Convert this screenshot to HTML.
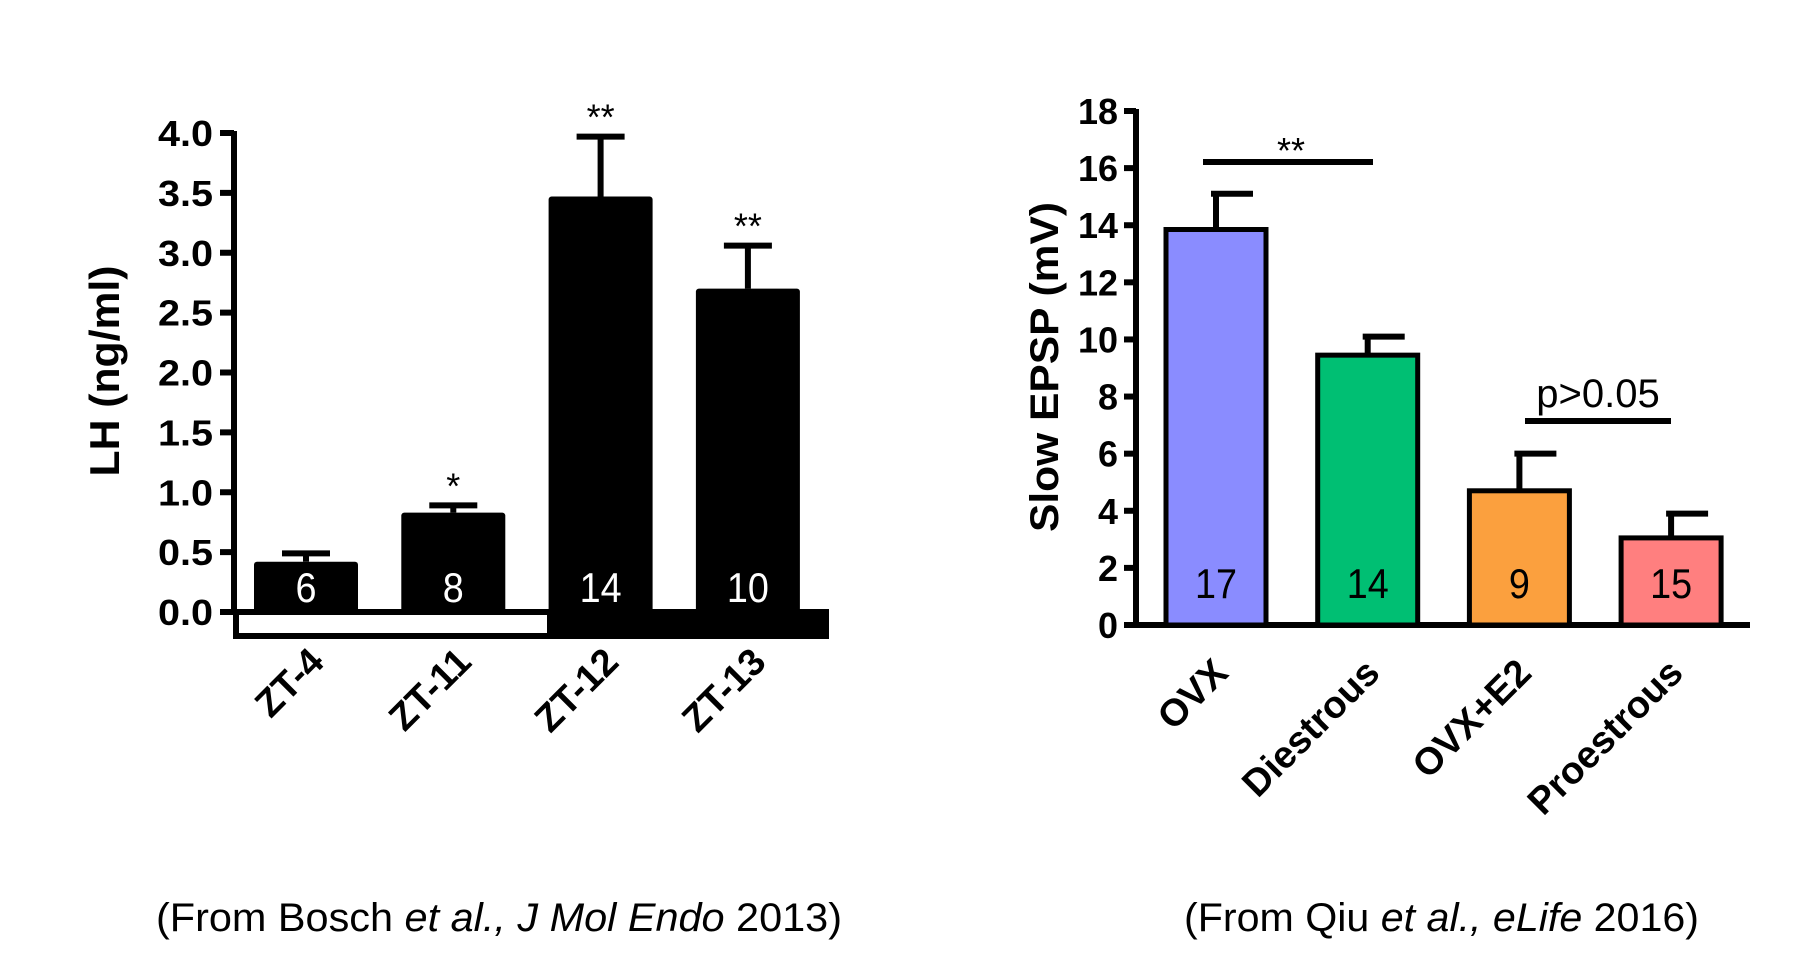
<!DOCTYPE html>
<html><head><meta charset="utf-8"><style>
html,body{margin:0;padding:0;background:#fff;}
svg{display:block;font-family:"Liberation Sans",Arial,sans-serif;}
</style></head><body>
<svg width="1805" height="954" viewBox="0 0 1805 954">
<g id="left"></g>
<g id="right"></g>
<text x="156" y="931" font-size="40" textLength="686" lengthAdjust="spacingAndGlyphs">(From Bosch <tspan font-style="italic">et al., J Mol Endo</tspan> 2013)</text>
<text x="1184" y="931" font-size="40" textLength="515" lengthAdjust="spacingAndGlyphs">(From Qiu <tspan font-style="italic">et al., eLife</tspan> 2016)</text>
</svg>
<script>
const NS="http://www.w3.org/2000/svg";
const lhCats=["ZT-4","ZT-11","ZT-12","ZT-13"];
const lhVals=[0.42,0.83,3.47,2.7];
const lhErr=[0.49,0.89,3.97,3.06];
const lhN=["6","8","14","10"];
const lhSig=["","*","**","**"];
const lhTicks=["0.0","0.5","1.0","1.5","2.0","2.5","3.0","3.5","4.0"];

const epCats=["OVX","Diestrous","OVX+E2","Proestrous"];
const epVals=[13.85,9.45,4.7,3.05];
const epErr=[15.1,10.1,6.0,3.9];
const epN=["17","14","9","15"];
const epColors=["#8a8cff","#00bf73","#fba03e","#ff7f7f"];
const epTicks=["0","2","4","6","8","10","12","14","16","18"];

function mk(parent,tag,attrs,txt){const e=document.createElementNS(NS,tag);for(const k in attrs)e.setAttribute(k,attrs[k]);if(txt!==undefined)e.textContent=txt;parent.appendChild(e);return e;}

// LEFT
const L=document.getElementById('left');
const ly=v=>612-v*(612-133)/4;
const lx0=254, lstep=147.3, lbw=104;
let e=mk(L,'rect',{x:236,y:612,width:590,height:24,fill:'#fff',stroke:'#000','stroke-width':6});

e=mk(L,'rect',{x:547,y:609,width:282,height:30,fill:'#000'});

e=mk(L,'line',{x1:234,y1:ly(4)-2,x2:234,y2:ly(0)+3,stroke:'#000','stroke-width':6});

lhTicks.forEach((t,i)=>{const v=parseFloat(t);const y=ly(v);
 let tk=mk(L,'line',{x1:220,y1:y,x2:234,y2:y,stroke:'#000','stroke-width':6});
 
 let tl=mk(L,'text',{x:158,y:y+13,'font-size':36,'font-weight':'bold',textLength:55,lengthAdjust:'spacingAndGlyphs'},t);
 });
e=mk(L,'text',{x:0,y:0,'font-size':42,'font-weight':'bold','text-anchor':'middle',transform:'translate(119,371) rotate(-90)',textLength:211,lengthAdjust:'spacingAndGlyphs'},'LH (ng/ml)');

lhCats.forEach((c,i)=>{const x=lx0+i*lstep;const cx=x+lbw/2;
 const y=ly(lhVals[i]), ye=ly(lhErr[i]);
 let ln=mk(L,'line',{x1:cx,y1:ye,x2:cx,y2:y,stroke:'#000','stroke-width':6});
 
 let cp=mk(L,'line',{x1:cx-24,y1:ye,x2:cx+24,y2:ye,stroke:'#000','stroke-width':6});
 
 let b=mk(L,'rect',{x:x,y:y,width:lbw,height:ly(0)-y+2,fill:'#000',rx:3});
 
 let n=mk(L,'text',{x:cx,y:602,'font-size':42,fill:'#fff','text-anchor':'middle',textLength:(lhN[i].length*21),lengthAdjust:'spacingAndGlyphs'},lhN[i]);
 
 if(lhSig[i]){let s=mk(L,'text',{x:cx,y:ye-7,'font-size':36,'text-anchor':'middle'},lhSig[i]);
  }
 let xl=mk(L,'text',{x:0,y:0,'font-size':38,'font-weight':'bold','text-anchor':'end',transform:`translate(${cx+20},${664}) rotate(-45)`},c);
 
});

// RIGHT
const R=document.getElementById('right');
const ry=v=>625-v*(625-111)/18;
const rx0=1166, rstep=151.7, rbw=100;
e=mk(R,'line',{x1:1136,y1:ry(18)-2,x2:1136,y2:ry(0)+3,stroke:'#000','stroke-width':6});

e=mk(R,'line',{x1:1133,y1:ry(0),x2:1750,y2:ry(0),stroke:'#000','stroke-width':6});

epTicks.forEach(t=>{const y=ry(parseFloat(t));
 let tk=mk(R,'line',{x1:1124,y1:y,x2:1136,y2:y,stroke:'#000','stroke-width':6});
 
 let tl=mk(R,'text',{x:1118,y:y+13,'font-size':36,'font-weight':'bold','text-anchor':'end',textLength:(t.length*20),lengthAdjust:'spacingAndGlyphs'},t);
 });
e=mk(R,'text',{x:0,y:0,'font-size':40,'font-weight':'bold','text-anchor':'middle',transform:'translate(1058,367) rotate(-90)',textLength:330,lengthAdjust:'spacingAndGlyphs'},'Slow EPSP (mV)');

epCats.forEach((c,i)=>{const x=rx0+i*rstep;const cx=x+rbw/2;
 const y=ry(epVals[i]), ye=ry(epErr[i]);
 let ln=mk(R,'line',{x1:cx,y1:ye,x2:cx,y2:y,stroke:'#000','stroke-width':6});
 
 let cp=mk(R,'line',{x1:cx-5,y1:ye,x2:cx+37,y2:ye,stroke:'#000','stroke-width':6});
 
 let b=mk(R,'rect',{x:x,y:y,width:rbw,height:ry(0)-y,fill:epColors[i],stroke:'#000','stroke-width':5});
 
 let n=mk(R,'text',{x:cx,y:598,'font-size':42,fill:'#000','text-anchor':'middle',textLength:(epN[i].length*21),lengthAdjust:'spacingAndGlyphs'},epN[i]);
 
 let xl=mk(R,'text',{x:0,y:0,'font-size':38,'font-weight':'bold','text-anchor':'end',transform:`translate(${cx+14},${675}) rotate(-45)`},c);
 
});
e=mk(R,'line',{x1:1203,y1:162,x2:1373,y2:162,stroke:'#000','stroke-width':6});

e=mk(R,'text',{x:1291,y:163,'font-size':36,'text-anchor':'middle'},'**');

e=mk(R,'line',{x1:1525,y1:421,x2:1671,y2:421,stroke:'#000','stroke-width':6});

e=mk(R,'text',{x:1598,y:407,'font-size':40,'text-anchor':'middle'},'p>0.05');

</script>
</body></html>
